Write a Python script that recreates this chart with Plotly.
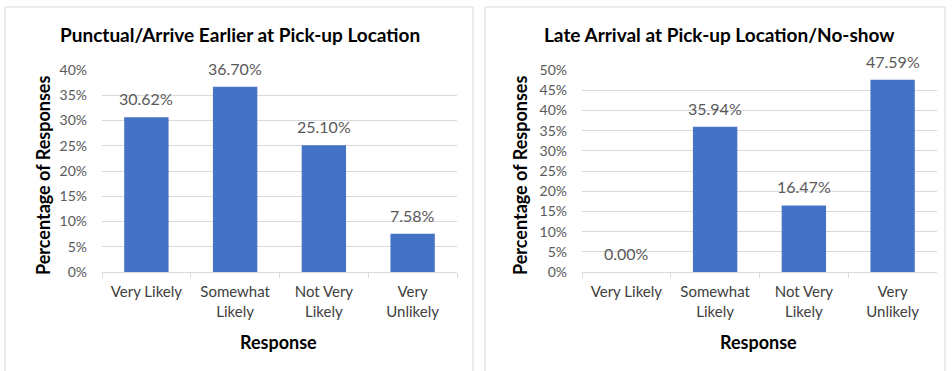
import plotly.graph_objects as go

# Survey responses for the two pick-up scenarios
categories = ["Very Likely", "Somewhat<br>Likely", "Not Very<br>Likely", "Very<br>Unlikely"]
punctual_pct = [30.62, 36.70, 25.10, 7.58]
late_pct = [0.00, 35.94, 16.47, 47.59]
left_ticks = [0, 5, 10, 15, 20, 25, 30, 35, 40]
right_ticks = [0, 5, 10, 15, 20, 25, 30, 35, 40, 45, 50]
titles = ["Punctual/Arrive Earlier at Pick-up Location", "Late Arrival at Pick-up Location/No-show"]

W, H = 952, 371
FONT = "Lato"
BAR = "#4472C4"
GRID = "#D9D9D9"
LABEL = "#595959"
DARK = "#404040"


def px(x):
    return x / W


def py(y):
    return 1 - y / H


fig = go.Figure()

panels = [
    dict(vals=punctual_pct, ticks=left_ticks, x0=102, x1=457, box=(5, 473), tx=240, yx=43, rx=278),
    dict(vals=late_pct, ticks=right_ticks, x0=582, x1=937, box=(485, 945), tx=719, yx=520, rx=758),
]

for i, p in enumerate(panels):
    n = "" if i == 0 else str(i + 1)
    fig.add_trace(go.Bar(
        x=categories, y=p["vals"], xaxis="x" + n, yaxis="y" + n,
        marker=dict(color=BAR, line=dict(width=0)), width=0.5,
        showlegend=False, hoverinfo="skip",
    ))
    # value labels above each bar
    for cat, v in zip(categories, p["vals"]):
        fig.add_annotation(x=cat, y=v, xref="x" + n, yref="y" + n,
                           text=f"{v:.2f}%", showarrow=False,
                           xanchor="center", yanchor="bottom", yshift=7,
                           font=dict(family=FONT, size=16, color=LABEL))
    fig.update_layout(**{
        "xaxis" + n: dict(
            domain=[px(p["x0"]), px(p["x1"])], anchor="y" + n, automargin=False,
            showline=True, linecolor=GRID, linewidth=1, showgrid=False, zeroline=False,
            ticks="outside", tickson="boundaries", ticklen=5, tickcolor=GRID,
            ticklabelstandoff=6,
            tickfont=dict(family=FONT, size=15, color=DARK), fixedrange=True,
        ),
        "yaxis" + n: dict(
            domain=[py(272), py(70)], anchor="x" + n, automargin=False,
            range=[0, p["ticks"][-1]], tickvals=p["ticks"],
            ticktext=[f"{t}%" for t in p["ticks"]],
            showgrid=True, gridcolor=GRID, gridwidth=1, zeroline=False,
            showline=False, ticks="", ticklabelstandoff=14,
            tickfont=dict(family=FONT, size=14, color=LABEL), fixedrange=True,
        ),
    })
    # panel frame
    fig.add_shape(type="rect", xref="paper", yref="paper",
                  x0=px(p["box"][0]), x1=px(p["box"][1]), y0=-0.05, y1=py(7),
                  line=dict(color=GRID, width=1), fillcolor="rgba(0,0,0,0)", layer="below")
    # chart title
    fig.add_annotation(text=f"<b>{titles[i]}</b>", xref="paper", yref="paper",
                       x=px(p["tx"]), y=py(35), showarrow=False,
                       xanchor="center", yanchor="middle",
                       font=dict(family=FONT, size=19, color="#000000"))
    # y-axis title
    fig.add_annotation(text="<b>Percentage of Responses</b>", xref="paper", yref="paper",
                       x=px(p["yx"]), y=py(176), showarrow=False, textangle=-90,
                       xanchor="center", yanchor="middle",
                       font=dict(family=FONT, size=18, color="#000000"))
    # x-axis title
    fig.add_annotation(text="<b>Response</b>", xref="paper", yref="paper",
                       x=px(p["rx"]), y=py(342), showarrow=False,
                       xanchor="center", yanchor="middle",
                       font=dict(family=FONT, size=18, color="#000000"))

fig.update_layout(
    template="none",
    width=W, height=H, margin=dict(l=0, r=0, t=0, b=0, autoexpand=False),
    paper_bgcolor="white", plot_bgcolor="white", bargap=0.5,
)

fig.write_html("out.html")
